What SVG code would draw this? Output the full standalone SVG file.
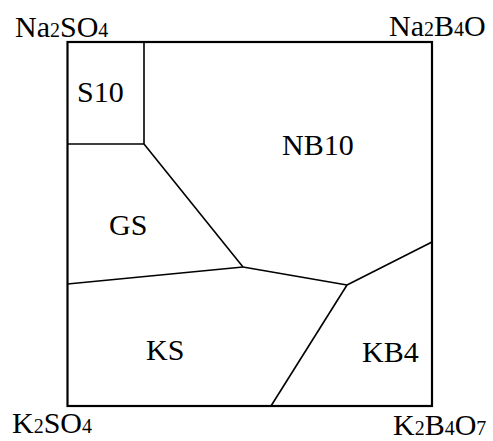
<svg xmlns="http://www.w3.org/2000/svg" width="493" height="441" viewBox="0 0 493 441">
<style>
text{font-family:'Liberation Serif','Times New Roman',serif;font-size:30px;fill:#000}
.s{font-size:20px}
.b{fill:none;stroke:#000;stroke-width:2.2}
.l{fill:none;stroke:#000;stroke-width:1.6}
</style>
<rect width="493" height="441" fill="#fff"/>
<g id="connectors">
<rect class="b" x="67.5" y="42" width="364.5" height="364"/>
<polyline class="l" points="144,42 144,144 67.5,144"/>
<line class="l" x1="144" y1="144" x2="243" y2="267"/>
<line class="l" x1="67.5" y1="284" x2="243" y2="267"/>
<line class="l" x1="243" y1="267" x2="347" y2="285"/>
<line class="l" x1="347" y1="285" x2="432" y2="242"/>
<line class="l" x1="347" y1="285" x2="271" y2="406"/>
</g>
<g id="corner-na2so4"><text x="15" y="37">Na<tspan class="s">2</tspan>SO<tspan class="s">4</tspan></text></g>
<g id="corner-na2b4o"><text x="389" y="36">Na<tspan class="s">2</tspan>B<tspan class="s">4</tspan>O</text></g>
<g id="corner-k2so4"><text x="12" y="433">K<tspan class="s">2</tspan>SO<tspan class="s">4</tspan></text></g>
<g id="corner-k2b4o7"><text x="393" y="435">K<tspan class="s">2</tspan>B<tspan class="s">4</tspan>O<tspan class="s">7</tspan></text></g>
<g id="S10"><text x="77" y="102">S10</text></g>
<g id="NB10"><text x="282" y="155">NB10</text></g>
<g id="GS"><text x="109" y="235">GS</text></g>
<g id="KS"><text x="146" y="360">KS</text></g>
<g id="KB4"><text x="362" y="362">KB4</text></g>
</svg>
